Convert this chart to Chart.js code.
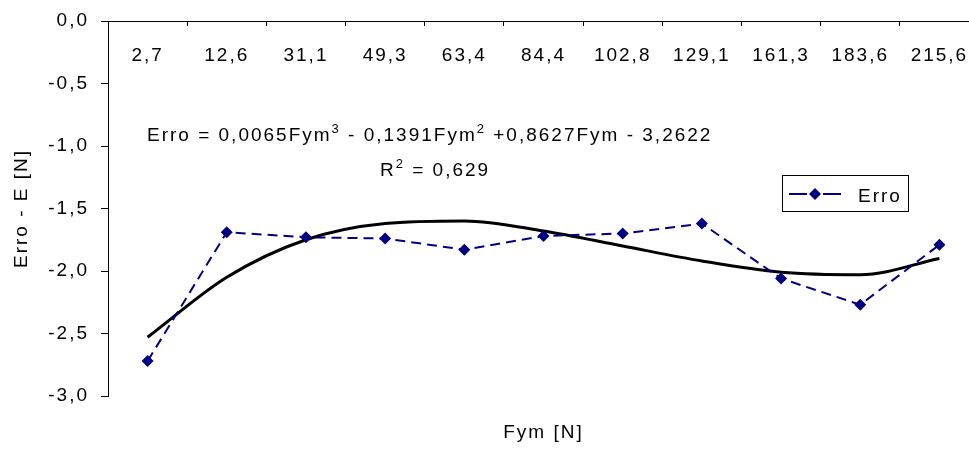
<!DOCTYPE html>
<html>
<head>
<meta charset="utf-8">
<script src="https://cdn.jsdelivr.net/npm/chart.js@4"></script>
<style>
  html, body { margin: 0; padding: 0; background: #fff; overflow: hidden; }
</style>
</head>
<body>
<canvas id="chart" width="990" height="452"></canvas>
<script>
// categories (Fym [N]) and measured error values
const fymLabels = ['2,7', '12,6', '31,1', '49,3', '63,4', '84,4', '102,8', '129,1', '161,3', '183,6', '215,6'];
const erroValues = [-2.72, -1.69, -1.73, -1.74, -1.83, -1.72, -1.70, -1.62, -2.06, -2.27, -1.79];
// polynomial trendline at each category
const trendValues = [-2.53, -2.05, -1.75, -1.62, -1.60, -1.68, -1.80, -1.92, -2.01, -2.03, -1.90];
const yTicks = { min: -3, max: 0, step: 0.5 };

const trendEquation = ['Erro = 0,0065Fym', '3', ' - 0,1391Fym', '2', ' +0,8627Fym - 3,2622'];
const trendR2 = ['R', '2', ' = 0,629'];

const navy = '#000080';
const fontFamily = '"Liberation Sans", Arial, sans-serif';
const fontSize = 19;
const spacing = '2px';

const setSpacing = (chart) => { chart.ctx.letterSpacing = spacing; };

// draws text pieces, every second piece as a superscript
const drawRichText = (ctx, pieces, x, y) => {
    pieces.forEach((piece, i) => {
        const sup = i % 2 === 1;
        ctx.font = (sup ? '13px ' : fontSize + 'px ') + fontFamily;
        ctx.fillText(piece, x, sup ? y - 8 : y);
        x += ctx.measureText(piece).width;
    });
};

const annotationsPlugin = {
    id: 'annotations',
    beforeUpdate: setSpacing,
    beforeDraw: setSpacing,
    afterDraw: (chart) => {
        const ctx = chart.ctx;
        ctx.save();
        ctx.letterSpacing = spacing;
        ctx.fillStyle = '#000';
        ctx.textBaseline = 'alphabetic';
        ctx.textAlign = 'left';
        drawRichText(ctx, trendEquation, 147, 141);
        drawRichText(ctx, trendR2, 380, 176);

        // legend box
        ctx.fillStyle = '#fff';
        ctx.fillRect(782, 175, 126, 36);
        ctx.strokeStyle = '#000';
        ctx.lineWidth = 1;
        ctx.strokeRect(782.5, 175.5, 126, 36);
        ctx.strokeStyle = navy;
        ctx.lineWidth = 2;
        ctx.beginPath();
        ctx.moveTo(789, 194); ctx.lineTo(807, 194);
        ctx.moveTo(823, 194); ctx.lineTo(841, 194);
        ctx.stroke();
        ctx.fillStyle = navy;
        ctx.beginPath();
        ctx.moveTo(815, 188); ctx.lineTo(821, 194); ctx.lineTo(815, 200); ctx.lineTo(809, 194);
        ctx.closePath();
        ctx.fill();
        ctx.fillStyle = '#000';
        ctx.font = fontSize + 'px ' + fontFamily;
        ctx.fillText('Erro', 858, 202);
        ctx.restore();
    }
};

const ctx = document.getElementById('chart').getContext('2d');

new Chart(ctx, {
    type: 'line',
    data: {
        labels: fymLabels,
        datasets: [
            {
                label: 'Erro',
                data: erroValues,
                borderColor: navy,
                backgroundColor: navy,
                borderWidth: 2,
                borderDash: [10, 6],
                pointStyle: 'rectRot',
                pointRadius: 6,
                pointBorderWidth: 0,
                pointBackgroundColor: navy,
                tension: 0,
            },
            {
                label: 'Polinômio (Erro)',
                data: trendValues,
                borderColor: '#000',
                borderWidth: 3,
                pointRadius: 0,
                cubicInterpolationMode: 'monotone',
            }
        ]
    },
    options: {
        responsive: false,
        animation: false,
        layout: { padding: { top: 21, right: 11, left: 0, bottom: 0 } },
        plugins: {
            legend: { display: false },
            tooltip: { enabled: false },
        },
        scales: {
            x: {
                type: 'category',
                axis: 'x',
                position: { y: 0 },
                offset: true,
                grid: { drawOnChartArea: false, drawTicks: true, tickLength: 4, color: '#000', offset: true },
                border: { display: true, color: '#000', width: 1 },
                ticks: {
                    color: '#000',
                    font: { family: fontFamily, size: fontSize },
                    padding: 19,
                    autoSkip: false,
                    maxRotation: 0,
                },
            },
            x2: {
                type: 'category',
                axis: 'x',
                position: 'bottom',
                grid: { display: false },
                border: { display: false },
                ticks: { display: false },
                title: {
                    display: true,
                    text: 'Fym [N]',
                    color: '#000',
                    font: { family: fontFamily, size: fontSize },
                    padding: { top: 0, bottom: 8 },
                },
                afterFit: (scale) => { scale.height = 56; },
            },
            y: {
                min: yTicks.min,
                max: yTicks.max,
                grid: { drawOnChartArea: false, drawTicks: true, tickLength: 7, color: '#000' },
                border: { display: true, color: '#000', width: 1 },
                ticks: {
                    stepSize: yTicks.step,
                    color: '#000',
                    font: { family: fontFamily, size: fontSize },
                    padding: 12,
                    callback: (value) => value.toFixed(1).replace('.', ','),
                },
                title: {
                    display: true,
                    text: 'Erro - E [N]',
                    color: '#000',
                    font: { family: fontFamily, size: fontSize },
                    padding: { top: 10, bottom: 0 },
                },
                afterFit: (scale) => {
                    scale.width = 108;
                    scale.paddingTop = 0;
                    scale.paddingBottom = 0;
                },
            }
        }
    },
    plugins: [annotationsPlugin]
});
</script>
</body>
</html>
